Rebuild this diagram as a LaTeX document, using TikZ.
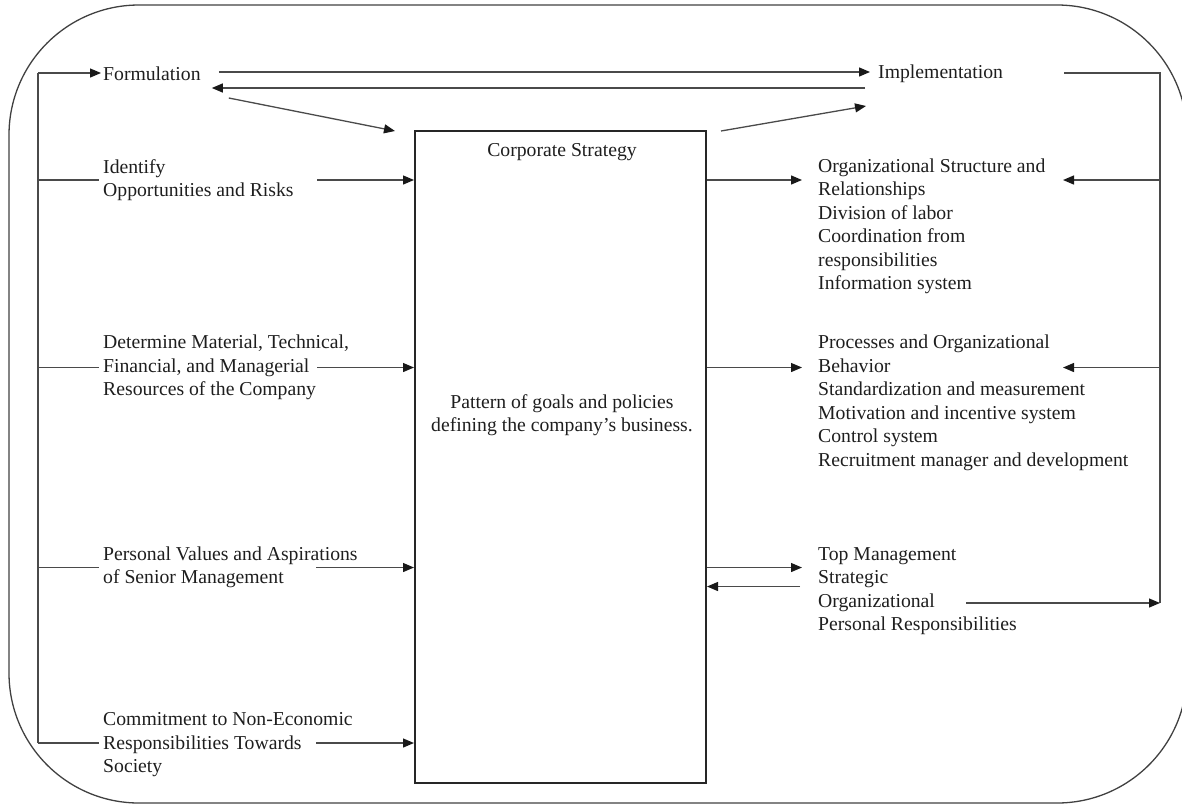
\documentclass[tikz,border=0pt]{standalone}
\usepackage{fontspec}
\setmainfont{Liberation Serif}
\usetikzlibrary{arrows.meta,calc}
\definecolor{lncol}{HTML}{4A4A4A}
\definecolor{txcol}{HTML}{1E1E1E}
\begin{document}
\begin{tikzpicture}[x=1pt,y=-1pt,
  line/.style={draw=lncol, line width=1.3pt},
  arr/.style={line, -{Triangle[length=11pt,width=9pt,color=black!90]}},
  lbl/.style={anchor=west, align=left, inner sep=0pt, text=txcol,
    font=\fontsize{19.7}{23.5}\selectfont},
  ctr/.style={align=center, inner sep=0pt, text=txcol,
    font=\fontsize{19.7}{23.5}\selectfont},
  bigbox/.style={draw=black!85, line width=2pt, minimum width=291pt,
    minimum height=652pt, inner sep=0pt}]
\useasboundingbox (0,0) rectangle (1182,804);
% outer frame
\draw[line, draw=black!75, rounded corners=130pt] (9,5) rectangle (1187,803);

% central box
\node[bigbox] (box) at (560.5,457) {};
\node[ctr] (cstitle) at (562,152) {Corporate Strategy};
\node[ctr] (csbody) at (562,415) {Pattern of goals and policies\\defining the company’s business.};

% left labels
\node[lbl] (fo) at (103,74) {Formulation};
\node[lbl] (id) at (103,180) {Identify\\Opportunities and Risks};
\node[lbl] (dm) at (103,367.5) {Determine Material, Technical,\\Financial, and Managerial\\Resources of the Company};
\node[lbl] (pv) at (103,567.5) {Personal Values and Aspirations\\of Senior Management};
\node[lbl] (cm) at (103,745) {Commitment to Non-Economic\\Responsibilities Towards\\Society};

% right labels
\node[lbl] (im) at (878,74) {Implementation};
\node[lbl] (os) at (818,226.5) {Organizational Structure and\\Relationships\\Division of labor\\Coordination from\\responsibilities\\Information system};
\node[lbl] (pr) at (818,403) {Processes and Organizational\\Behavior\\Standardization and measurement\\Motivation and incentive system\\Control system\\Recruitment manager and development};
\node[lbl] (tm) at (818,591) {Top Management\\Strategic\\Organizational\\Personal Responsibilities};

% left feedback line
\coordinate (LT) at (38,73);
\coordinate (LB) at (38,743);
\draw[line] (LB) -- (LT);
\draw[arr] (LT) -- ($(fo.west)+(-2,-1)$);
\draw[line] (LT |- id.west) -- ($(id.west)+(-4,0)$);
\draw[line] (LT |- dm.west) -- ($(dm.west)+(-4,0)$);
\draw[line] (LT |- pv.west) -- ($(pv.west)+(-4,0)$);
\draw[line] (LB) -- ($(cm.west)+(-4,-2)$);

% left inputs into the box
\draw[arr] ($(id.west)+(214,0)$) -- (box.west |- id.west);
\draw[arr] ($(dm.west)+(214,0)$) -- (box.west |- dm.west);
\draw[arr] ($(pv.west)+(213,0)$) -- (box.west |- pv.west);
\draw[arr] ($(cm.west)+(213,-2)$) -- ($(box.west |- cm.west)+(0,-2)$);

% formulation <-> implementation
\draw[arr] ($(fo.east)+(18,-2)$) -- ($(im.west)+(-8,-2)$);
\draw[arr] ($(im.west)+(-13,14)$) -- ($(fo.east)+(11,14)$);
\draw[arr] ($(fo.east)+(28,24)$) -- ($(box.north west)+(-19,1)$);
\draw[arr] ($(box.north east)+(14,1)$) -- ($(im.west)+(-12,32)$);

% box outputs
\draw[arr] (box.east |- id.west) -- ($(os.west |- id.west)+(-16,0)$);
\draw[arr] (box.east |- dm.west) -- ($(pr.west |- dm.west)+(-16,0)$);
\draw[arr] (box.east |- pv.west) -- ($(tm.west |- pv.west)+(-16,0)$);
\coordinate (tmret) at ($(tm.west |- pv.west)+(-18,19)$);
\draw[arr] (tmret) -- (box.east |- tmret);

% right feedback line
\coordinate (IR) at ($(im.west)+(186,-1)$);
\coordinate (RT) at (1160,73);
\coordinate (RB) at (1160,603);
\draw[line] (IR) -- (RT) -- (RB);
\draw[arr] (RT |- id.west) -- ($(os.west |- id.west)+(245,0)$);
\draw[arr] (RT |- dm.west) -- ($(pr.west |- dm.west)+(245,0)$);
\draw[arr] ($(tm.west |- RB)+(148,0)$) -- (RB);
\end{tikzpicture}
\end{document}
